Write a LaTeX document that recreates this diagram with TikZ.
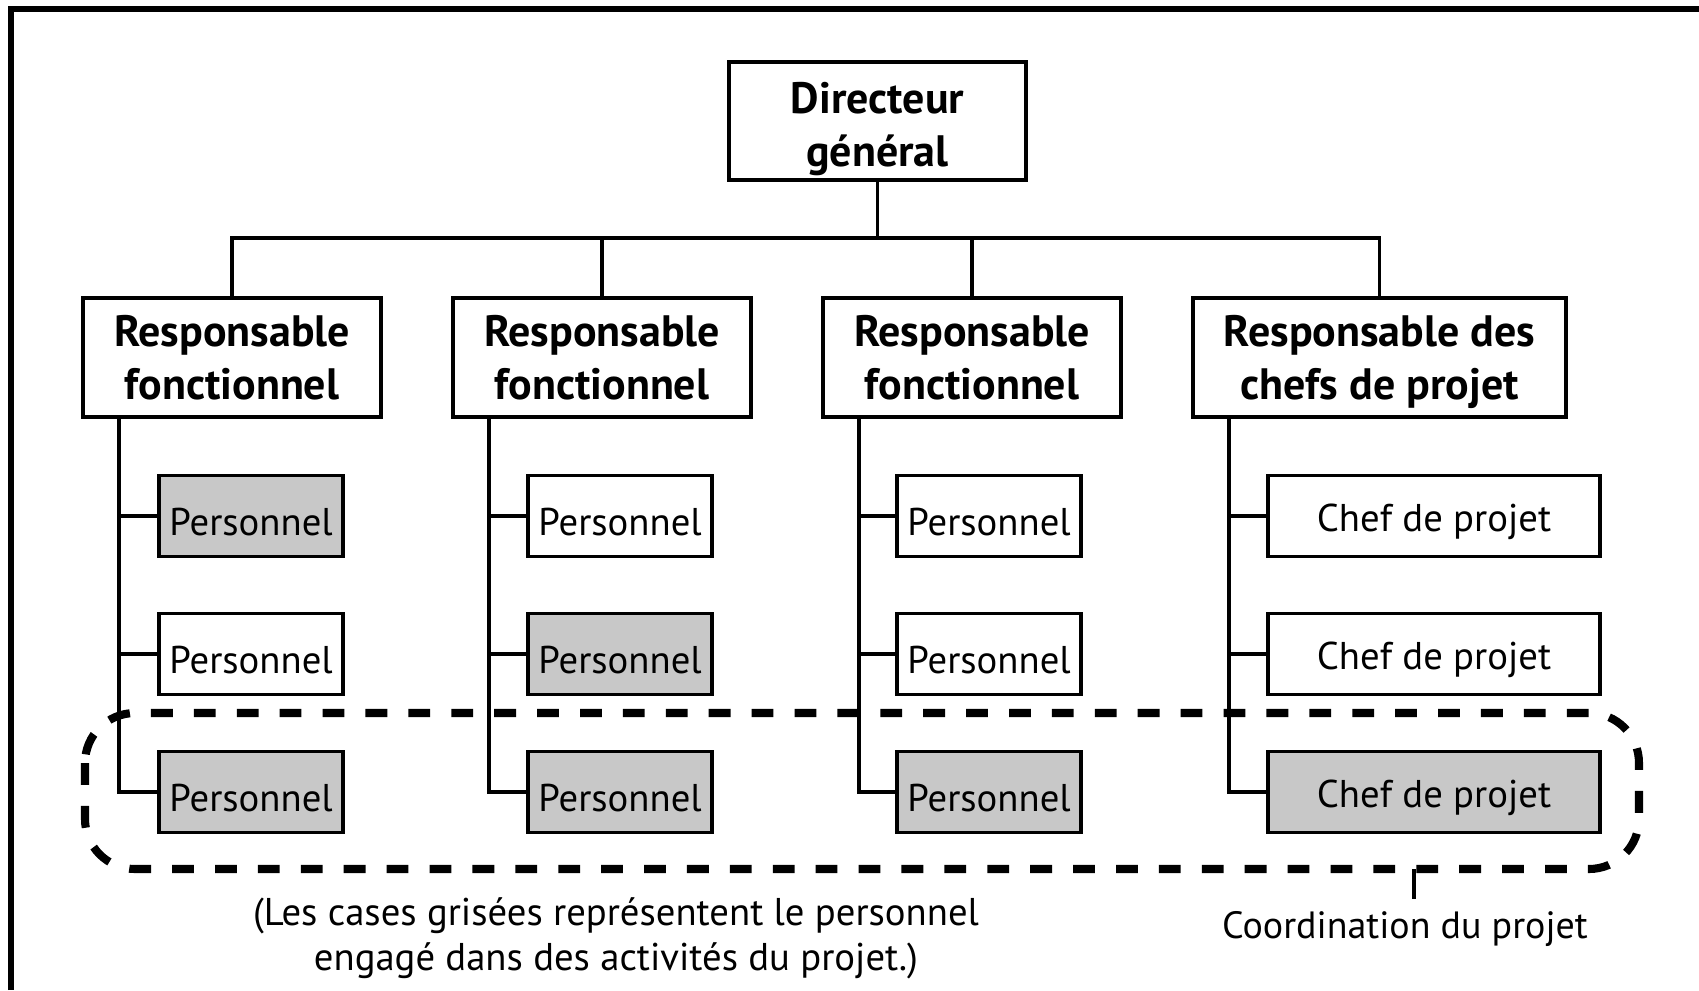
\documentclass[tikz,border=0pt]{standalone}
\usepackage{fontspec}
\setmainfont{PT Sans}
\definecolor{caseGrise}{RGB}{200,200,200}
\begin{document}
\begin{tikzpicture}
  [x=0.01cm,y=-0.01cm,
   boss/.style={draw,line width=1.1pt,inner sep=0pt,align=center,
     minimum width=2.98cm,minimum height=1.19cm,
     font=\fontsize{12.5}{15}\selectfont\bfseries},
   staff/.style={draw,line width=1.1pt,inner sep=0pt,fill=white,
     minimum width=1.84cm,minimum height=0.81cm,text height=11pt,text depth=0pt,
     font=\fontsize{11}{13}\selectfont},
   chef/.style={staff,minimum width=3.32cm,text height=8.8pt},
   grey/.style={fill=caseGrise},
   conn/.style={line width=0.9pt}]
  \useasboundingbox (0,0) rectangle (1699,990);
  \draw [line width=1.5pt] (11,990) -- (11,9) -- (1699,9);

  \node [boss,minimum width=2.97cm,minimum height=1.18cm] (dg) at (877.5,121) {\rule{0pt}{13.6pt}Directeur\\général};
  \node [boss] (r1) at (232,357.5) {Responsable\\fonctionnel};
  \node [boss] (r2) at (602,357.5) {Responsable\\fonctionnel};
  \node [boss] (r3) at (972,357.5) {Responsable\\fonctionnel};
  \node [boss,minimum width=3.73cm] (r4) at (1379.5,357.5) {Responsable des\\chefs de \smash{projet}};
  \coordinate (bus) at (877.5,238);

  \node [staff,grey] (p11) at (251,516) {Personnel};
  \node [staff] (p12) at (251,654) {Personnel};
  \node [staff,grey] (p13) at (251,792) {Personnel};
  \node [staff] (p21) at (620,516) {Personnel};
  \node [staff,grey] (p22) at (620,654) {Personnel};
  \node [staff,grey] (p23) at (620,792) {Personnel};
  \node [staff] (p31) at (989,516) {Personnel};
  \node [staff] (p32) at (989,654) {Personnel};
  \node [staff,grey] (p33) at (989,792) {Personnel};
  \node [chef] (p41) at (1434,516) {Chef de projet};
  \node [chef] (p42) at (1434,654) {Chef de projet};
  \node [chef,grey] (p43) at (1434,792) {Chef de projet};

\path [draw,conn]
(dg.south) -- (bus)
(bus) -| (r1.north)
(bus) -| (r2.north)
(bus) -| (r3.north)
(bus) -| (r4.north)
;

% lignes verticales sous chaque responsable
\path [draw,conn]
(r1.south west) ++(38,0) |- (p13.west)
(p11.west) -- ++(-38,0)
(p12.west) -- ++(-38,0)
(r2.south west) ++(38,0) |- (p23.west)
(p21.west) -- ++(-38,0)
(p22.west) -- ++(-38,0)
(r3.south west) ++(38,0) |- (p33.west)
(p31.west) -- ++(-38,0)
(p32.west) -- ++(-38,0)
(r4.south west) ++(38,0) |- (p43.west)
(p41.west) -- ++(-38,0)
(p42.west) -- ++(-38,0)
;

  \draw [line width=2.3pt,dash pattern=on 6.2pt off 6pt,rounded corners=0.5cm]
    (85,713) rectangle (1639,869);
  \coordinate (tick) at (1414,869);

  \node [font=\fontsize{11}{12.8}\selectfont,align=center] (note) at (616,938)
    {(Les cases grisées représentent le personnel\\engagé dans des activités du projet.)};
  \node [font=\fontsize{10.8}{13}\selectfont] (coord) at (1405,929) {Coordination du projet};
  \draw [conn] (tick) -- (tick |- coord.north);
\end{tikzpicture}
\end{document}
